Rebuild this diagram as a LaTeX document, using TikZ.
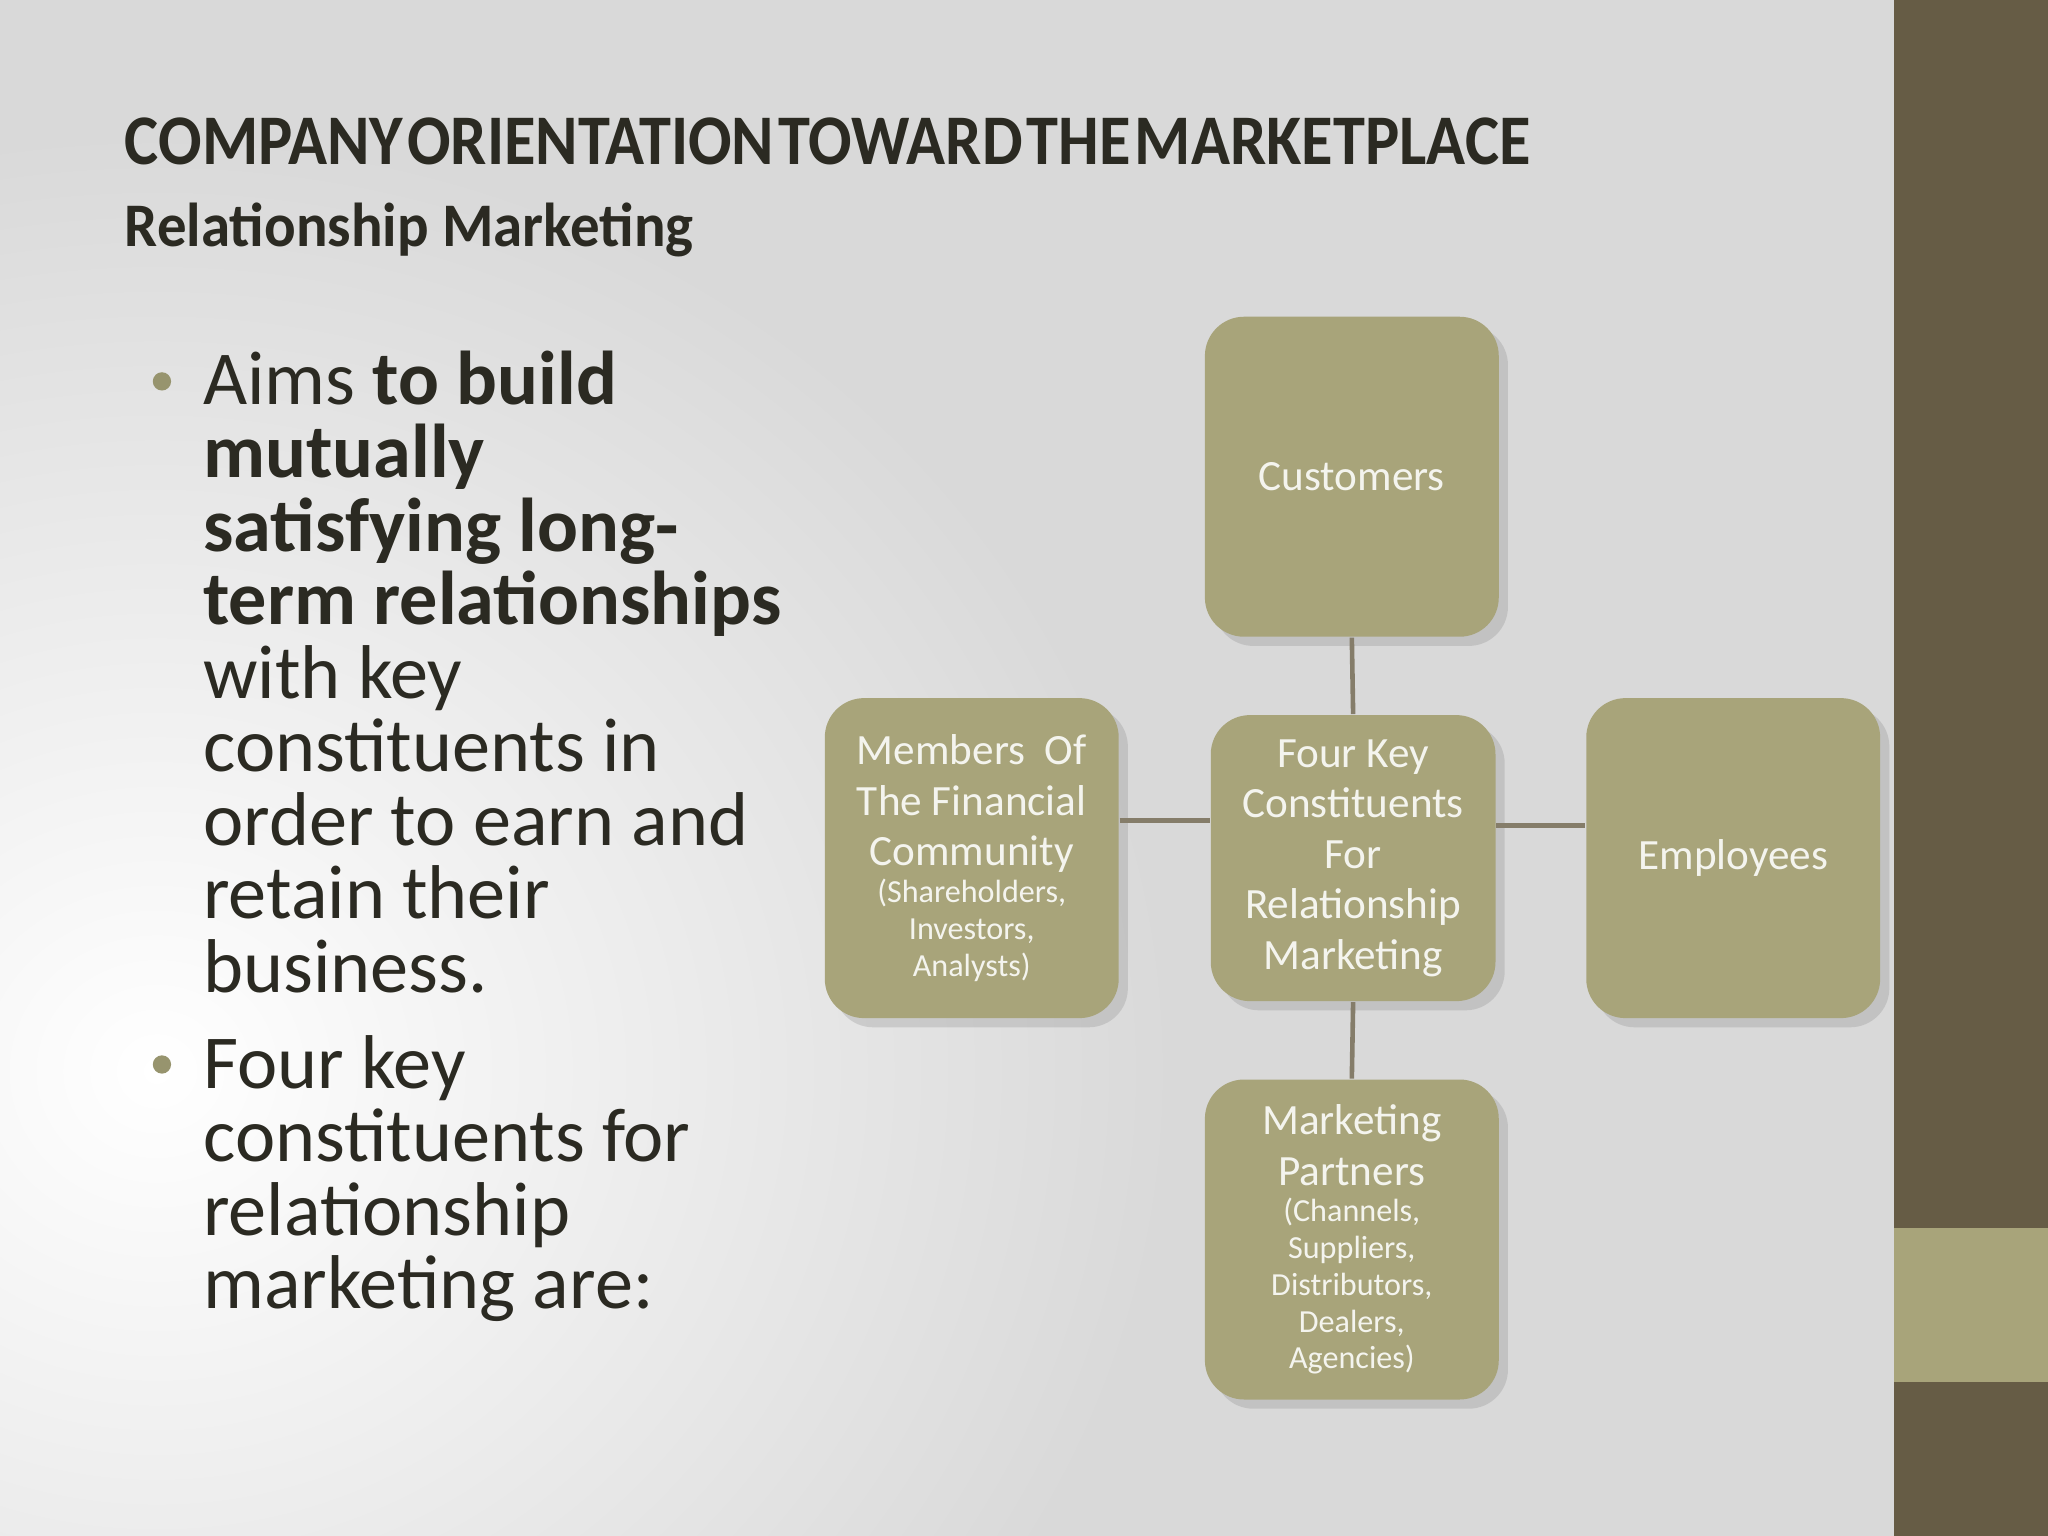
\documentclass[tikz,border=0pt]{standalone}
\usepackage{fontspec}
\setmainfont{Carlito}
\usetikzlibrary{shadows}
\definecolor{bgray}{HTML}{D9D9D9}
\definecolor{olive}{HTML}{A8A47A}
\definecolor{darkolive}{HTML}{665C45}
\definecolor{ink}{HTML}{2B2A22}
\definecolor{boxtext}{HTML}{F4F4EE}
\tikzset{
  cbox/.style={draw=none, fill=olive, rounded corners=30*0.01cm, minimum width=225*0.01cm, minimum height=245*0.01cm,
    text=boxtext, align=center, inner sep=0pt, drop shadow={shadow xshift=2pt, shadow yshift=-2pt, opacity=0.25}},
  link/.style={draw=darkolive!80, line width=1pt},
  big/.style={font=\fontsize{9.4}{11}\selectfont},
  btext/.style={anchor=north west, inner sep=0, text=ink, align=left, font=\fontsize{16.6}{16}\selectfont},
}
\newcommand{\smalltxt}[1]{{\fontsize{7}{8}\selectfont #1}}
\begin{document}
\begin{tikzpicture}[x=0.01cm,y=-0.01cm]
\useasboundingbox (0,0) rectangle (1568,1176);
\fill[bgray] (0,0) rectangle (1568,1176);
\begin{scope}
\clip (0,0) rectangle (1450,1176);
\shade[inner color=white, outer color=bgray] (120,820) ellipse [x radius=780, y radius=720];
\end{scope}
\fill[darkolive] (1450,0) rectangle (1568,1176);
\fill[olive] (1450,940) rectangle (1568,1058);
% titles
\node[anchor=base west, inner sep=0, text=ink, font=\bfseries\fontsize{15.5}{18}\selectfont, xscale=0.905] (title) at (95,126) {COMPANY\hspace{1pt}ORIENTATION\hspace{1pt}TOWARD\hspace{1pt}THE\hspace{1pt}MARKETPLACE};
\node[anchor=base west, inner sep=0, text=ink, font=\bfseries\fontsize{13.5}{15}\selectfont, xscale=0.95] (sub) at (95,189) {Relationship Marketing};
% bullets
\node[btext] (b1) at (155,268)
 {Aims \textbf{to build}\\\textbf{mutually}\\\textbf{satisfying long-}\\\textbf{term relationships}\\with key\\constituents in\\order to earn and\\retain their\\business.};
\node[btext] (b2) at (155,792)
 {Four key\\constituents for\\relationship\\marketing are:};
\fill[olive!90!black] (124,292) circle (7);
\fill[olive!90!black] (124,815) circle (7);
% boxes
\node[cbox, big] (cust) at (1035,365) {Customers};
\node[cbox, big, minimum width=218*0.01cm, minimum height=219*0.01cm] (center) at (1036,657) {Four Key\\Constituents\\For\\Relationship\\Marketing};
\node[cbox, big] (fin) at (744,657) {Members \ Of\\The Financial\\Community\\[-3pt]\smalltxt{(Shareholders,}\\[-3pt]\smalltxt{Investors,}\\[-3pt]\smalltxt{Analysts)}};
\node[cbox, big] (emp) at (1327,657) {Employees};
\node[cbox, big] (part) at (1035,949) {Marketing\\Partners\\[-3pt]\smalltxt{(Channels,}\\[-3pt]\smalltxt{Suppliers,}\\[-3pt]\smalltxt{Distributors,}\\[-3pt]\smalltxt{Dealers,}\\[-3pt]\smalltxt{Agencies)}};
\draw[link] (cust.south) -- (center.north);
\draw[link] (center.south) -- (part.north);
\draw[link] (fin.east |- 0,628) -- (center.west |- 0,628);
\draw[link] (center.east |- 0,632) -- (emp.west |- 0,632);
\end{tikzpicture}
\end{document}
